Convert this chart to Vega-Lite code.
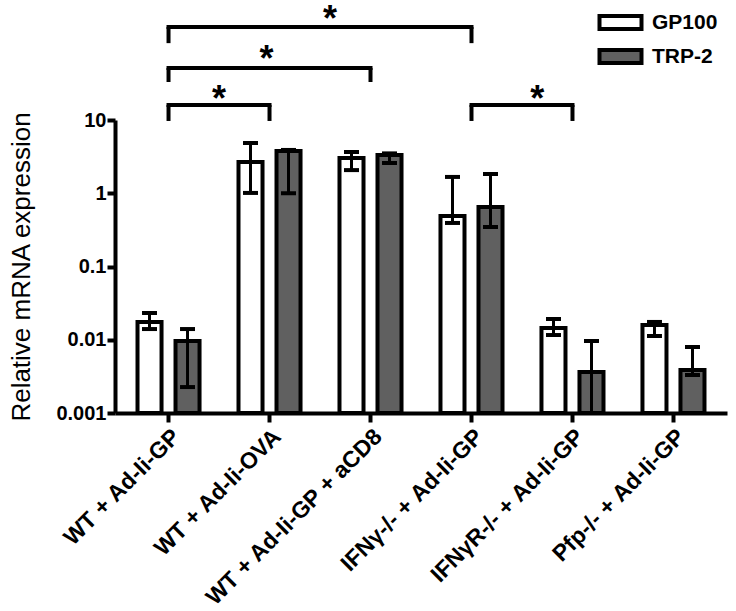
{
  "$schema": "https://vega.github.io/schema/vega-lite/v6.json",
  "width": 612,
  "height": 293,
  "autosize": "none",
  "padding": {"left": 115, "top": 120, "right": 9, "bottom": 198},
  "config": {
    "view": {"stroke": null},
    "font": "Liberation Sans",
    "axis": {"labelColor": "black", "titleColor": "black", "domainColor": "black", "tickColor": "black", "grid": false}
  },
  "datasets": {
    "bars": [
      {"group": "WT + Ad-Ii-GP", "gene": "GP100", "mean": 0.0175, "lo": 0.0140, "hi": 0.0232},
      {"group": "WT + Ad-Ii-GP", "gene": "TRP-2", "mean": 0.0096, "lo": 0.00226, "hi": 0.0140},
      {"group": "WT + Ad-Ii-OVA", "gene": "GP100", "mean": 2.67, "lo": 1.01, "hi": 4.85},
      {"group": "WT + Ad-Ii-OVA", "gene": "TRP-2", "mean": 3.77, "lo": 1.0, "hi": 3.9},
      {"group": "WT + Ad-Ii-GP + aCD8", "gene": "GP100", "mean": 3.03, "lo": 2.07, "hi": 3.66},
      {"group": "WT + Ad-Ii-GP + aCD8", "gene": "TRP-2", "mean": 3.33, "lo": 2.59, "hi": 3.5},
      {"group": "IFNγ-/- + Ad-Ii-GP", "gene": "GP100", "mean": 0.489, "lo": 0.393, "hi": 1.67},
      {"group": "IFNγ-/- + Ad-Ii-GP", "gene": "TRP-2", "mean": 0.649, "lo": 0.346, "hi": 1.83},
      {"group": "IFNγR-/- + Ad-Ii-GP", "gene": "GP100", "mean": 0.01445, "lo": 0.0116, "hi": 0.0192},
      {"group": "IFNγR-/- + Ad-Ii-GP", "gene": "TRP-2", "mean": 0.00363, "lo": 0.001, "hi": 0.00962},
      {"group": "Pfp-/- + Ad-Ii-GP", "gene": "GP100", "mean": 0.0159, "lo": 0.01125, "hi": 0.0175},
      {"group": "Pfp-/- + Ad-Ii-GP", "gene": "TRP-2", "mean": 0.00386, "lo": 0.0033, "hi": 0.00796}
    ],
    "brackets": [
      {"from": "WT + Ad-Ii-GP", "to": "IFNγ-/- + Ad-Ii-GP", "top": 186, "bottom": 112},
      {"from": "WT + Ad-Ii-GP", "to": "WT + Ad-Ii-GP + aCD8", "top": 51.3, "bottom": 33},
      {"from": "WT + Ad-Ii-GP", "to": "WT + Ad-Ii-OVA", "top": 16, "bottom": 9.7},
      {"from": "IFNγ-/- + Ad-Ii-GP", "to": "IFNγR-/- + Ad-Ii-GP", "top": 16, "bottom": 9.7}
    ],
    "stars": [
      {"pos": 1.6, "y": 163, "label": "*"},
      {"pos": 0.97, "y": 46.8, "label": "*"},
      {"pos": 0.5, "y": 13.4, "label": "*"},
      {"pos": 3.65, "y": 13.4, "label": "*"}
    ]
  },
  "layer": [
    {
      "layer": [
        {
          "data": {"name": "bars"},
          "mark": {"type": "bar", "stroke": "black", "strokeWidth": 4, "strokeJoin": "miter"},
          "encoding": {
            "x": {
              "field": "group", "type": "nominal", "title": null,
              "scale": {"domain": ["WT + Ad-Ii-GP", "WT + Ad-Ii-OVA", "WT + Ad-Ii-GP + aCD8", "IFNγ-/- + Ad-Ii-GP", "IFNγR-/- + Ad-Ii-GP", "Pfp-/- + Ad-Ii-GP"], "paddingInner": 0.3, "paddingOuter": 0.18},
              "axis": {"labelAngle": -45, "labelFontSize": 23, "labelFontWeight": "bold", "labelLimit": 0, "tickSize": 9, "tickWidth": 4, "domainWidth": 4, "labelPadding": 3}
            },
            "xOffset": {"field": "gene", "type": "nominal", "scale": {"domain": ["GP100", "TRP-2"], "paddingInner": 0.368, "paddingOuter": 0.114}},
            "y": {
              "field": "mean", "type": "quantitative", "title": "Relative mRNA expression",
              "scale": {"type": "log", "domain": [0.001, 10], "nice": false},
              "axis": {"values": [0.001, 0.01, 0.1, 1, 10], "format": "~g", "labelFontSize": 20, "labelFontWeight": "bold", "labelPadding": 1, "tickSize": 8, "tickWidth": 4, "domainWidth": 4, "titleFontSize": 26, "titleFontWeight": "normal", "titlePadding": 21}
            },
            "y2": {"datum": 0.001},
            "fill": {
              "field": "gene", "type": "nominal",
              "scale": {"domain": ["GP100", "TRP-2"], "range": ["white", "#606060"]},
              "legend": {"title": null, "orient": "none", "legendX": 493, "legendY": -110, "padding": 0, "symbolType": "M-2,-0.62H2V0.62H-2Z", "symbolSize": 441, "symbolStrokeColor": "black", "symbolStrokeWidth": 4, "symbolOpacity": 1, "labelFontSize": 21, "labelFontWeight": "bold", "labelColor": "black", "labelOffset": 19, "rowPadding": 3}
            }
          }
        },
        {
          "data": {"name": "bars"},
          "mark": {"type": "rule", "color": "black", "strokeWidth": 3},
          "encoding": {
            "x": {"field": "group", "type": "nominal", "title": null, "scale": {"domain": ["WT + Ad-Ii-GP", "WT + Ad-Ii-OVA", "WT + Ad-Ii-GP + aCD8", "IFNγ-/- + Ad-Ii-GP", "IFNγR-/- + Ad-Ii-GP", "Pfp-/- + Ad-Ii-GP"]}},
            "xOffset": {"field": "gene", "type": "nominal"},
            "y": {"field": "lo", "type": "quantitative", "title": "Relative mRNA expression"},
            "y2": {"field": "hi"}
          }
        },
        {
          "data": {"name": "bars"},
          "mark": {"type": "tick", "color": "black", "size": 15, "thickness": 4, "opacity": 1},
          "encoding": {
            "x": {"field": "group", "type": "nominal", "title": null, "scale": {"domain": ["WT + Ad-Ii-GP", "WT + Ad-Ii-OVA", "WT + Ad-Ii-GP + aCD8", "IFNγ-/- + Ad-Ii-GP", "IFNγR-/- + Ad-Ii-GP", "Pfp-/- + Ad-Ii-GP"]}},
            "xOffset": {"field": "gene", "type": "nominal"},
            "y": {"field": "hi", "type": "quantitative", "title": "Relative mRNA expression"}
          }
        },
        {
          "data": {"name": "bars"},
          "mark": {"type": "tick", "color": "black", "size": 15, "thickness": 4, "opacity": 1},
          "encoding": {
            "x": {"field": "group", "type": "nominal", "title": null, "scale": {"domain": ["WT + Ad-Ii-GP", "WT + Ad-Ii-OVA", "WT + Ad-Ii-GP + aCD8", "IFNγ-/- + Ad-Ii-GP", "IFNγR-/- + Ad-Ii-GP", "Pfp-/- + Ad-Ii-GP"]}},
            "xOffset": {"field": "gene", "type": "nominal"},
            "y": {"field": "lo", "type": "quantitative", "title": "Relative mRNA expression"}
          }
        },
        {
          "data": {"name": "brackets"},
          "mark": {"type": "rule", "color": "black", "strokeWidth": 4, "strokeCap": "square", "clip": false},
          "encoding": {
            "x": {"field": "from", "type": "nominal", "title": null, "scale": {"domain": ["WT + Ad-Ii-GP", "WT + Ad-Ii-OVA", "WT + Ad-Ii-GP + aCD8", "IFNγ-/- + Ad-Ii-GP", "IFNγR-/- + Ad-Ii-GP", "Pfp-/- + Ad-Ii-GP"]}},
            "x2": {"field": "to"},
            "y": {"field": "top", "type": "quantitative", "title": "Relative mRNA expression"}
          }
        },
        {
          "data": {"name": "brackets"},
          "mark": {"type": "rule", "color": "black", "strokeWidth": 4, "clip": false},
          "encoding": {
            "x": {"field": "from", "type": "nominal", "title": null, "scale": {"domain": ["WT + Ad-Ii-GP", "WT + Ad-Ii-OVA", "WT + Ad-Ii-GP + aCD8", "IFNγ-/- + Ad-Ii-GP", "IFNγR-/- + Ad-Ii-GP", "Pfp-/- + Ad-Ii-GP"]}},
            "y": {"field": "top", "type": "quantitative", "title": "Relative mRNA expression"},
            "y2": {"field": "bottom"}
          }
        },
        {
          "data": {"name": "brackets"},
          "mark": {"type": "rule", "color": "black", "strokeWidth": 4, "clip": false},
          "encoding": {
            "x": {"field": "to", "type": "nominal", "title": null, "scale": {"domain": ["WT + Ad-Ii-GP", "WT + Ad-Ii-OVA", "WT + Ad-Ii-GP + aCD8", "IFNγ-/- + Ad-Ii-GP", "IFNγR-/- + Ad-Ii-GP", "Pfp-/- + Ad-Ii-GP"]}},
            "y": {"field": "top", "type": "quantitative", "title": "Relative mRNA expression"},
            "y2": {"field": "bottom"}
          }
        }
      ]
    },
    {
      "data": {"name": "stars"},
      "mark": {"type": "text", "fontSize": 36, "fontWeight": "bold", "color": "black", "baseline": "alphabetic", "align": "center", "clip": false},
      "encoding": {
        "x": {"field": "pos", "type": "quantitative", "scale": {"domain": [-0.53, 5.53], "nice": false, "zero": false}, "axis": null},
        "y": {"field": "y", "type": "quantitative", "title": "Relative mRNA expression"},
        "text": {"field": "label"}
      }
    }
  ],
  "resolve": {"scale": {"x": "independent"}}
}
